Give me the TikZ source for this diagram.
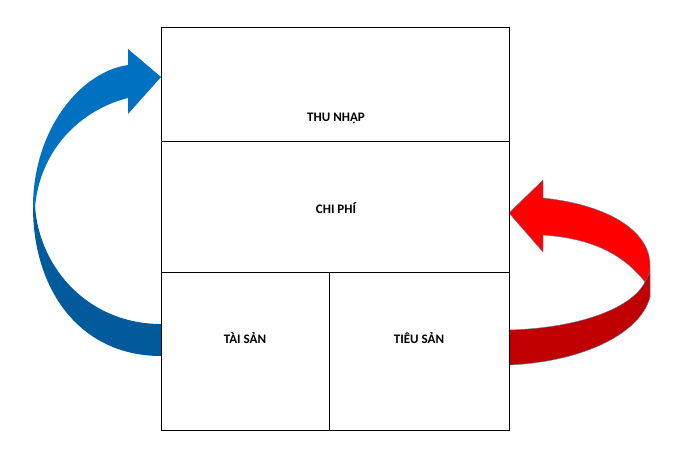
\documentclass[tikz,border=0pt]{standalone}
\usepackage{fontspec}
\setmainfont{Carlito}
\begin{document}
\begin{tikzpicture}[x=1pt,y=-1pt,
  lbl/.style={font=\bfseries\fontsize{13}{15}\selectfont},
  ln/.style={line width=0.7pt}]
\useasboundingbox (0,0) rectangle (673,450);
\definecolor{bA}{HTML}{0070C0}\definecolor{bB}{HTML}{005A9C}
\definecolor{rA}{HTML}{FF0000}\definecolor{rB}{HTML}{C00000}
\definecolor{edge}{HTML}{5B7FA6}
% left arrow
\fill[bB] (161,356) .. controls (80,356) and (33,290) .. (33,207) -- (35,207) .. controls (40,270) and (90,324) .. (161,324) -- cycle;
\fill[bA] (33,207) .. controls (33,130) and (80,72) .. (128,65) -- (128,49) -- (161,77) -- (128,114) -- (128,98) .. controls (80,110) and (40,150) .. (35,207) -- cycle;
% right arrow
\filldraw[fill=rA,draw=edge,line width=0.4pt] (543,198) .. controls (610,205) and (650,232) .. (650,265) -- (650,297) -- (645,282) .. controls (620,250) and (585,238) .. (543,235) -- (543,252) -- (509,213) -- (543,180) -- cycle;
\filldraw[fill=rB,draw=edge,line width=0.4pt] (509,330) .. controls (580,328) and (632,308) .. (645,282) -- (650,272) -- (650,297) .. controls (640,335) and (580,362) .. (509,365) -- cycle;
% boxes
\node[draw,ln,minimum width=348pt,minimum height=114pt,inner sep=0pt,anchor=north west] (thu) at (161,27) {};
\node[draw,ln,minimum width=348pt,minimum height=131pt,inner sep=0pt,anchor=north west] (chi) at (161,141) {};
\node[draw,ln,minimum width=168pt,minimum height=158pt,inner sep=0pt,anchor=north west] (tai) at (161,272) {};
\node[draw,ln,minimum width=180pt,minimum height=158pt,inner sep=0pt,anchor=north west] (tieu) at (329,272) {};
\node[lbl] (t1) at (336,118) {THU NHẬP};
\node[lbl] (t2) at (336,208) {CHI PHÍ};
\node[lbl] (t3) at (245,338) {TÀI SẢN};
\node[lbl] (t4) at (419,338) {TIÊU SẢN};
\end{tikzpicture}
\end{document}
